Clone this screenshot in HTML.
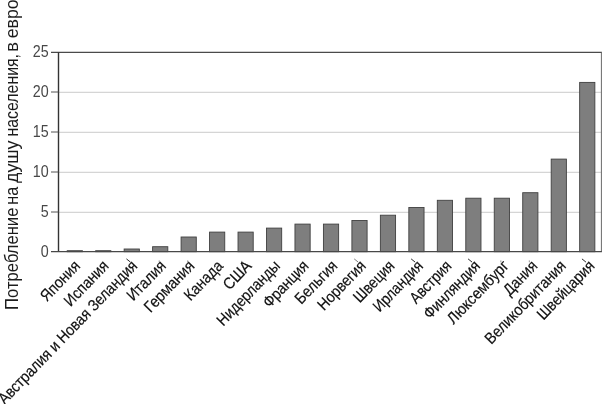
<!DOCTYPE html>
<html lang="ru"><head><meta charset="utf-8"><title>Потребление на душу населения</title>
<style>html,body{margin:0;padding:0;background:#fff}svg{display:block}text{font-family:"Liberation Sans",sans-serif}</style></head><body>
<svg width="604" height="404" viewBox="0 0 604 404">
<rect width="604" height="404" fill="#fff"/>
<line x1="58.5" y1="212.3" x2="601.4" y2="212.3" stroke="#bdbdbd" stroke-width="0.8"/>
<line x1="58.5" y1="172.3" x2="601.4" y2="172.3" stroke="#bdbdbd" stroke-width="0.8"/>
<line x1="58.5" y1="132.3" x2="601.4" y2="132.3" stroke="#bdbdbd" stroke-width="0.8"/>
<line x1="58.5" y1="92.3" x2="601.4" y2="92.3" stroke="#bdbdbd" stroke-width="0.8"/>
<line x1="51.0" y1="52.3" x2="601.9" y2="52.3" stroke="#4a4a4a" stroke-width="1.3"/>
<line x1="601.4" y1="52.3" x2="601.4" y2="251.7" stroke="#6a6a6a" stroke-width="1"/>
<line x1="58.5" y1="52.3" x2="58.5" y2="251.7" stroke="#333" stroke-width="1.4"/>
<line x1="51.0" y1="212" x2="58.5" y2="212" stroke="#555" stroke-width="1"/>
<line x1="51.0" y1="172" x2="58.5" y2="172" stroke="#555" stroke-width="1"/>
<line x1="51.0" y1="132" x2="58.5" y2="132" stroke="#555" stroke-width="1"/>
<line x1="51.0" y1="92" x2="58.5" y2="92" stroke="#555" stroke-width="1"/>
<rect x="67.20" y="250.7" width="15.2" height="1.00" fill="#7e7e7e" stroke="#404040" stroke-width="0.9"/>
<rect x="95.67" y="250.7" width="15.2" height="1.00" fill="#7e7e7e" stroke="#404040" stroke-width="0.9"/>
<rect x="124.14" y="249" width="15.2" height="2.70" fill="#7e7e7e" stroke="#404040" stroke-width="0.9"/>
<rect x="152.61" y="246.7" width="15.2" height="5.00" fill="#7e7e7e" stroke="#404040" stroke-width="0.9"/>
<rect x="181.08" y="237" width="15.2" height="14.70" fill="#7e7e7e" stroke="#404040" stroke-width="0.9"/>
<rect x="209.55" y="232.1" width="15.2" height="19.60" fill="#7e7e7e" stroke="#404040" stroke-width="0.9"/>
<rect x="238.02" y="232.1" width="15.2" height="19.60" fill="#7e7e7e" stroke="#404040" stroke-width="0.9"/>
<rect x="266.49" y="228.1" width="15.2" height="23.60" fill="#7e7e7e" stroke="#404040" stroke-width="0.9"/>
<rect x="294.96" y="224.1" width="15.2" height="27.60" fill="#7e7e7e" stroke="#404040" stroke-width="0.9"/>
<rect x="323.43" y="224.1" width="15.2" height="27.60" fill="#7e7e7e" stroke="#404040" stroke-width="0.9"/>
<rect x="351.90" y="220.5" width="15.2" height="31.20" fill="#7e7e7e" stroke="#404040" stroke-width="0.9"/>
<rect x="380.37" y="215.2" width="15.2" height="36.50" fill="#7e7e7e" stroke="#404040" stroke-width="0.9"/>
<rect x="408.84" y="207.5" width="15.2" height="44.20" fill="#7e7e7e" stroke="#404040" stroke-width="0.9"/>
<rect x="437.31" y="200.3" width="15.2" height="51.40" fill="#7e7e7e" stroke="#404040" stroke-width="0.9"/>
<rect x="465.78" y="198.2" width="15.2" height="53.50" fill="#7e7e7e" stroke="#404040" stroke-width="0.9"/>
<rect x="494.25" y="198.2" width="15.2" height="53.50" fill="#7e7e7e" stroke="#404040" stroke-width="0.9"/>
<rect x="522.72" y="192.7" width="15.2" height="59.00" fill="#7e7e7e" stroke="#404040" stroke-width="0.9"/>
<rect x="551.19" y="159.1" width="15.2" height="92.60" fill="#7e7e7e" stroke="#404040" stroke-width="0.9"/>
<rect x="579.66" y="82.4" width="15.2" height="169.30" fill="#7e7e7e" stroke="#404040" stroke-width="0.9"/>
<line x1="51.0" y1="251.7" x2="601.9" y2="251.7" stroke="#484848" stroke-width="1.25"/>
<text x="48.7" y="257.5" font-size="15.8" text-anchor="end" fill="#484848" transform="translate(48.7 0) scale(0.905 1) translate(-48.7 0)">0</text>
<text x="48.7" y="217.5" font-size="15.8" text-anchor="end" fill="#484848" transform="translate(48.7 0) scale(0.905 1) translate(-48.7 0)">5</text>
<text x="48.7" y="177.5" font-size="15.8" text-anchor="end" fill="#484848" transform="translate(48.7 0) scale(0.905 1) translate(-48.7 0)">10</text>
<text x="48.7" y="137.5" font-size="15.8" text-anchor="end" fill="#484848" transform="translate(48.7 0) scale(0.905 1) translate(-48.7 0)">15</text>
<text x="48.7" y="97.5" font-size="15.8" text-anchor="end" fill="#484848" transform="translate(48.7 0) scale(0.905 1) translate(-48.7 0)">20</text>
<text x="48.7" y="57.5" font-size="15.8" text-anchor="end" fill="#484848" transform="translate(48.7 0) scale(0.905 1) translate(-48.7 0)">25</text>
<text transform="translate(17.8 309.9) rotate(-90)" font-size="18.5" fill="#1c1c1c" textLength="102.3" lengthAdjust="spacingAndGlyphs">Потребление</text>
<text transform="translate(17.8 204.7) rotate(-90)" font-size="18.5" fill="#1c1c1c" textLength="18.0" lengthAdjust="spacingAndGlyphs">на</text>
<text transform="translate(17.8 183) rotate(-90)" font-size="18.5" fill="#1c1c1c" textLength="42.5" lengthAdjust="spacingAndGlyphs">душу</text>
<text transform="translate(17.8 136.5) rotate(-90)" font-size="18.5" fill="#1c1c1c" textLength="82.5" lengthAdjust="spacingAndGlyphs">населения,</text>
<text transform="translate(17.8 51.8) rotate(-90)" font-size="18.5" fill="#1c1c1c" textLength="9.7" lengthAdjust="spacingAndGlyphs">в</text>
<text transform="translate(17.8 38.3) rotate(-90)" font-size="18.5" fill="#1c1c1c" textLength="38.9" lengthAdjust="spacingAndGlyphs">евро</text>
<text transform="translate(46.77 302.25) rotate(-46)" font-size="16" textLength="49.28" lengthAdjust="spacingAndGlyphs" fill="#111" stroke="#111" stroke-width="0.18">Япония</text>
<text transform="translate(70.60 307.16) rotate(-46)" font-size="16" textLength="56.11" lengthAdjust="spacingAndGlyphs" fill="#111" stroke="#111" stroke-width="0.18">Испания</text>
<line x1="126.44" y1="258.9" x2="130.44" y2="262.1" stroke="#111" stroke-width="1" stroke-opacity="0.9"/>
<text transform="translate(4.68 405.02) rotate(-46)" font-size="16" textLength="192.15" lengthAdjust="spacingAndGlyphs" fill="#111" stroke="#111" stroke-width="0.18">Австралия и Новая Зеландия</text>
<line x1="159.21" y1="260.4" x2="159.21" y2="262.3" stroke="#111" stroke-width="0.9" stroke-opacity="0.5"/>
<text transform="translate(133.15 301.59) rotate(-46)" font-size="16" textLength="48.36" lengthAdjust="spacingAndGlyphs" fill="#111" stroke="#111" stroke-width="0.18">Италия</text>
<line x1="187.68" y1="260.4" x2="187.68" y2="262.3" stroke="#111" stroke-width="0.9" stroke-opacity="0.5"/>
<text transform="translate(150.39 313.33) rotate(-46)" font-size="16" textLength="64.69" lengthAdjust="spacingAndGlyphs" fill="#111" stroke="#111" stroke-width="0.18">Германия</text>
<text transform="translate(190.49 301.40) rotate(-46)" font-size="16" textLength="48.10" lengthAdjust="spacingAndGlyphs" fill="#111" stroke="#111" stroke-width="0.18">Канада</text>
<line x1="241.82" y1="260.9" x2="241.82" y2="262.6" stroke="#111" stroke-width="0.9" stroke-opacity="0.6"/>
<text transform="translate(229.40 290.70) rotate(-46)" font-size="16" textLength="33.23" lengthAdjust="spacingAndGlyphs" fill="#111" stroke="#111" stroke-width="0.18">США</text>
<text transform="translate(223.27 326.64) rotate(-46)" font-size="16" textLength="83.19" lengthAdjust="spacingAndGlyphs" fill="#111" stroke="#111" stroke-width="0.18">Нидерланды</text>
<text transform="translate(269.43 308.44) rotate(-46)" font-size="16" textLength="57.88" lengthAdjust="spacingAndGlyphs" fill="#111" stroke="#111" stroke-width="0.18">Франция</text>
<text transform="translate(301.35 304.98) rotate(-46)" font-size="16" textLength="53.08" lengthAdjust="spacingAndGlyphs" fill="#111" stroke="#111" stroke-width="0.18">Бельгия</text>
<line x1="354.20" y1="258.9" x2="358.20" y2="262.1" stroke="#111" stroke-width="1" stroke-opacity="0.55"/>
<text transform="translate(323.93 311.19) rotate(-46)" font-size="16" textLength="61.71" lengthAdjust="spacingAndGlyphs" fill="#111" stroke="#111" stroke-width="0.18">Норвегия</text>
<text transform="translate(359.86 303.59) rotate(-46)" font-size="16" textLength="51.14" lengthAdjust="spacingAndGlyphs" fill="#111" stroke="#111" stroke-width="0.18">Швеция</text>
<line x1="411.14" y1="258.9" x2="415.14" y2="262.1" stroke="#111" stroke-width="1" stroke-opacity="0.9"/>
<text transform="translate(379.49 312.85) rotate(-46)" font-size="16" textLength="64.02" lengthAdjust="spacingAndGlyphs" fill="#111" stroke="#111" stroke-width="0.18">Ирландия</text>
<text transform="translate(416.20 304.43) rotate(-46)" font-size="16" textLength="52.31" lengthAdjust="spacingAndGlyphs" fill="#111" stroke="#111" stroke-width="0.18">Австрия</text>
<line x1="468.08" y1="258.9" x2="472.08" y2="262.1" stroke="#111" stroke-width="1" stroke-opacity="0.9"/>
<text transform="translate(430.07 319.67) rotate(-46)" font-size="16" textLength="73.49" lengthAdjust="spacingAndGlyphs" fill="#111" stroke="#111" stroke-width="0.18">Финляндия</text>
<line x1="500.85" y1="260.4" x2="500.85" y2="262.3" stroke="#111" stroke-width="0.9" stroke-opacity="0.5"/>
<text transform="translate(453.54 324.95) rotate(-46)" font-size="16" textLength="80.84" lengthAdjust="spacingAndGlyphs" fill="#111" stroke="#111" stroke-width="0.18">Люксембург</text>
<line x1="529.32" y1="260.4" x2="529.32" y2="262.3" stroke="#111" stroke-width="0.9" stroke-opacity="0.5"/>
<text transform="translate(509.65 296.44) rotate(-46)" font-size="16" textLength="41.21" lengthAdjust="spacingAndGlyphs" fill="#111" stroke="#111" stroke-width="0.18">Дания</text>
<text transform="translate(491.37 344.97) rotate(-46)" font-size="16" textLength="108.67" lengthAdjust="spacingAndGlyphs" fill="#111" stroke="#111" stroke-width="0.18">Великобритания</text>
<line x1="581.96" y1="258.9" x2="585.96" y2="262.1" stroke="#111" stroke-width="1" stroke-opacity="0.9"/>
<text transform="translate(543.39 320.70) rotate(-46)" font-size="16" textLength="74.93" lengthAdjust="spacingAndGlyphs" fill="#111" stroke="#111" stroke-width="0.18">Швейцария</text>
</svg></body></html>
